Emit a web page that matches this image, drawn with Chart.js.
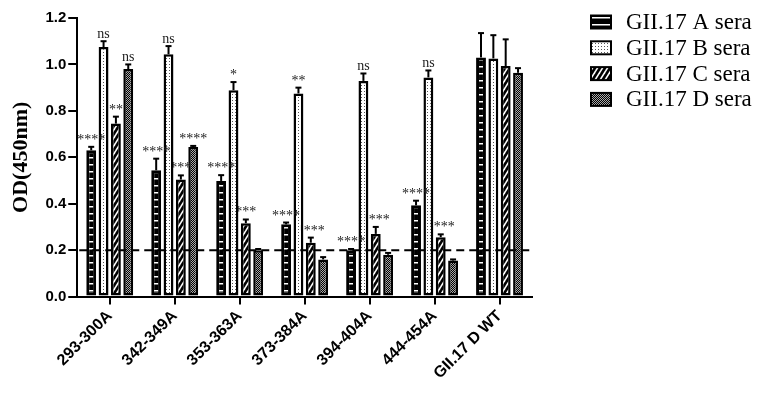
<!DOCTYPE html>
<html>
<head>
<meta charset="utf-8">
<script src="https://cdn.jsdelivr.net/npm/chart.js@4/dist/chart.umd.min.js"></script>
<style>
html,body{margin:0;padding:0;background:#fff;}
#wrap{width:767px;height:393px;position:relative;}
</style>
</head>
<body>
<div id="wrap"><canvas id="c" width="767" height="393"></canvas></div>
<script>
const categories = ['293-300A','342-349A','353-363A','373-384A','394-404A','444-454A','GII.17 D WT'];
const seriesNames = ['GII.17 A sera','GII.17 B sera','GII.17 C sera','GII.17 D sera'];
const seriesA = [0.63, 0.544, 0.498, 0.311, 0.199, 0.393, 1.03];
const seriesB = [1.075, 1.044, 0.889, 0.875, 0.929, 0.944, 1.026];
const seriesC = [0.745, 0.504, 0.316, 0.232, 0.27, 0.256, 0.993];
const seriesD = [0.98, 0.644, 0.2, 0.16, 0.18, 0.155, 0.964];
const errA = [0.015, 0.05, 0.025, 0.008, 0.006, 0.02, 0.105];
const errB = [0.025, 0.035, 0.035, 0.025, 0.032, 0.03, 0.1];
const errC = [0.03, 0.018, 0.016, 0.022, 0.03, 0.012, 0.115];
const errD = [0.02, 0.005, 0.005, 0.01, 0.008, 0.005, 0.02];
const sigA = ['****','****','****','****','****','****',''];
const sigB = ['ns','ns','*','**','ns','ns',''];
const sigC = ['**','***','***','****','****','****',''];
const sigD = ['ns','****','','','','',''];
const yTicks = [0, 0.2, 0.4, 0.6, 0.8, 1.0, 1.2];
const cutoff = 0.2;

const values = [seriesA, seriesB, seriesC, seriesD];
const errs = [errA, errB, errC, errD];
const sigs = [sigA, sigB, sigC, sigD];

function makePattern(type){
  const c = document.createElement('canvas');
  const g = c.getContext('2d');
  if (type === 'A'){
    c.width = 1; c.height = 7;
    g.fillStyle = '#000'; g.fillRect(0,0,1,7);
    g.fillStyle = '#fff'; g.fillRect(0,3,1,1.5);
  } else if (type === 'B'){
    c.width = 3; c.height = 3;
    g.fillStyle = '#fff'; g.fillRect(0,0,3,3);
    g.fillStyle = '#555'; g.fillRect(1,1,1,1);
  } else if (type === 'C'){
    c.width = 5; c.height = 8;
    g.fillStyle = '#000'; g.fillRect(0,0,5,8);
    g.strokeStyle = '#fff'; g.lineWidth = 1.6;
    for (let k=-1;k<=1;k++){
      g.beginPath(); g.moveTo(-5, 16 + k*8); g.lineTo(10, -8 + k*8); g.stroke();
    }
  } else {
    c.width = 2; c.height = 2;
    g.fillStyle = '#000'; g.fillRect(0,0,2,2);
    g.fillStyle = '#aaa'; g.fillRect(0,0,1,1); g.fillRect(1,1,1,1);
  }
  return g.createPattern(c, 'repeat');
}
const ctx0 = document.getElementById('c').getContext('2d');
const patterns = [makePattern('A'), makePattern('B'), makePattern('C'), makePattern('D')];
const borderWidths = [3, 2.5, 2.5, 2.5];

const errorBarPlugin = {
  id: 'errorBars',
  afterDatasetDraw(chart, args){
    const i = args.index;
    const meta = args.meta;
    const ys = chart.scales.y;
    const g = chart.ctx;
    g.save();
    meta.data.forEach((bar, j) => {
      const v = values[i][j], e = errs[i][j];
      const yTop = ys.getPixelForValue(v + e);
      const yBar = ys.getPixelForValue(v);
      g.strokeStyle = '#000';
      g.lineWidth = 2;
      g.beginPath();
      g.moveTo(bar.x, yBar);
      g.lineTo(bar.x, yTop);
      g.stroke();
      g.beginPath();
      g.moveTo(bar.x - 3, yTop);
      g.lineTo(bar.x + 3, yTop);
      g.stroke();
      const s = sigs[i][j];
      if (s){
        g.fillStyle = '#222';
        g.font = '14px "Liberation Serif", "Times New Roman", serif';
        g.textAlign = 'center';
        g.textBaseline = 'alphabetic';
        g.fillText(s, bar.x, yTop - 3);
      }
    });
    g.restore();
  },
  afterDatasetsDraw(chart){
    const g = chart.ctx;
    const ys = chart.scales.y;
    const ca = chart.chartArea;
    const y = ys.getPixelForValue(cutoff);
    g.save();
    g.strokeStyle = '#000';
    g.lineWidth = 2;
    g.setLineDash([8,5]);
    g.beginPath();
    g.moveTo(ca.left + 2, y);
    g.lineTo(ca.right, y);
    g.stroke();
    g.restore();
  },
  afterDraw(chart){
    const g = chart.ctx;
    g.save();
    chart.data.datasets.forEach((ds, i) => {
      const cy = 22 + i * 25.8;
      const bx = 590, bw = 22, bh = 15;
      g.fillStyle = '#000';
      g.fillRect(bx, cy - bh/2, bw, bh);
      g.fillStyle = ds.backgroundColor;
      g.fillRect(bx + 2, cy - bh/2 + 2, bw - 4, bh - 4);
      g.fillStyle = '#000';
      g.font = '23px "Liberation Serif", "Times New Roman", serif';
      g.textAlign = 'left';
      g.textBaseline = 'middle';
      g.fillText(ds.label, 626, cy + 1);
    });
    g.restore();
  }
};

new Chart(ctx0, {
  type: 'bar',
  data: {
    labels: categories,
    datasets: values.map((v, i) => ({
      label: seriesNames[i],
      data: v,
      backgroundColor: patterns[i],
      borderColor: '#000',
      borderWidth: borderWidths[i],
      borderSkipped: false,
      categoryPercentage: 0.76,
      barPercentage: 0.8
    }))
  },
  options: {
    responsive: false,
    animation: false,
    devicePixelRatio: 1,
    layout: { padding: { left: 8, right: 235, top: 18, bottom: 8 } },
    plugins: { legend: { display: false }, tooltip: { enabled: false } },
    scales: {
      x: {
        offset: true,
        grid: { display: true, offset: false, drawOnChartArea: false, drawTicks: true, tickLength: 8, color: '#000', lineWidth: 2 },
        border: { color: '#000', width: 2 },
        ticks: {
          maxRotation: 45, minRotation: 45, padding: 2, color: '#000',
          font: { family: '"Liberation Sans", Arial, sans-serif', size: 16, weight: 'bold' }
        }
      },
      y: {
        min: 0, max: 1.2,
        afterBuildTicks(scale){ scale.ticks = yTicks.map(v => ({ value: v })); },
        grid: { display: true, drawOnChartArea: false, drawTicks: true, tickLength: 9, color: '#000', lineWidth: 2 },
        border: { color: '#000', width: 2 },
        ticks: {
          padding: 2, color: '#000',
          font: { family: '"Liberation Sans", Arial, sans-serif', size: 15, weight: 'bold' },
          callback: (v) => Number(v).toFixed(1)
        },
        title: {
          display: true, text: 'OD(450nm)', color: '#000',
          font: { family: '"Liberation Serif", "Times New Roman", serif', size: 22, weight: 'bold' },
          padding: { top: 0, bottom: 9 }
        }
      }
    }
  },
  plugins: [errorBarPlugin]
});
</script>
</body>
</html>
